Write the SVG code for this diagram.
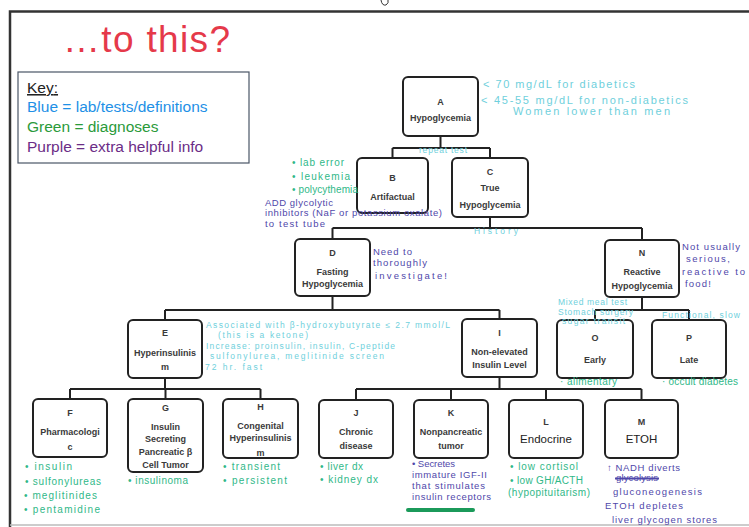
<svg xmlns="http://www.w3.org/2000/svg" width="749" height="527" viewBox="0 0 749 527">
<style>
.node rect{fill:#fff;stroke:#222;stroke-width:2}
.lbl{font-family:"Liberation Sans",Arial,sans-serif;font-weight:bold;font-size:9px;fill:#3a3a3a;text-anchor:middle}
.big{font-size:11.5px;font-weight:normal;fill:#222}
.con{stroke:#222;stroke-width:2;fill:none}
.hw{font-family:"Liberation Sans",Arial,sans-serif}
.lab{fill:#6fd0dc;font-size:8.5px}
.labL{fill:#6fd0dc;font-size:11px}
.grn{fill:#2fb888;font-size:10px}
.pur{fill:#4f47aa;font-size:9.5px}
.key{font-family:"Liberation Sans",Arial,sans-serif;font-size:15.5px}
</style>
<rect width="749" height="527" fill="#fff"/>
<!-- frame -->
<path d="M10 527 V11.5 H749" fill="none" stroke="#333" stroke-width="2.5"/>
<path d="M10 525 H749" stroke="#bbb" stroke-width="1.5"/>
<path d="M381 0 Q382 6 386 5 Q389 3 388 0" fill="none" stroke="#333" stroke-width="1"/>
<!-- title -->
<text x="63" y="52" font-family="Liberation Sans,Arial,sans-serif" font-size="37" fill="#e5394a" textLength="167">…to this?</text>
<!-- key -->
<g id="key">
<rect x="18" y="72" width="231" height="91" fill="#fff" stroke="#4a5566" stroke-width="1.2"/>
<text class="key" x="27" y="93" fill="#222" text-decoration="underline">Key<tspan text-decoration="none">:</tspan></text>
<text class="key" x="27" y="112" fill="#1e90e6">Blue = lab/tests/definitions</text>
<text class="key" x="27" y="132" fill="#2a9a3a">Green = diagnoses</text>
<text class="key" x="27" y="152" fill="#6b2c86">Purple = extra helpful info</text>
</g>
<!-- connectors -->
<g id="connectors" class="con">
<path d="M440.5 136 V148 M392.5 148 H490 M392.5 148 V158 M490 148 V158"/>
<path d="M490 217 V228 M332.5 228 H642 M332.5 228 V239 M642 228 V240"/>
<path d="M332.5 296 V310 M165 310 H499.5 M165 310 V320 M499.5 310 V319"/>
<path d="M642 297 V310 M595 310 H689 M595 310 V320 M689 310 V320"/>
<path d="M165 378 V389 M70 389 H260.5 M70 389 V399 M165.5 389 V399 M260.5 389 V399"/>
<path d="M499.5 377 V389 M356 389 H641.5 M356 389 V400 M451 389 V400 M546 389 V400 M641.5 389 V400"/>
</g>
<!-- nodes -->
<g id="A" class="node"><rect x="403" y="77" width="75" height="59" rx="5"/><text class="lbl" x="440.5" y="105">A</text><text class="lbl" x="440.5" y="121">Hypoglycemia</text></g>
<g id="B" class="node"><rect x="357" y="158" width="71" height="55" rx="5"/><text class="lbl" x="392.5" y="181">B</text><text class="lbl" x="392.5" y="200">Artifactual</text></g>
<g id="C" class="node"><rect x="452" y="158" width="76" height="59" rx="5"/><text class="lbl" x="490" y="175">C</text><text class="lbl" x="490" y="191">True</text><text class="lbl" x="490" y="208">Hypoglycemia</text></g>
<g id="D" class="node"><rect x="295" y="239" width="75" height="57" rx="5"/><text class="lbl" x="332.5" y="256">D</text><text class="lbl" x="332.5" y="275">Fasting</text><text class="lbl" x="332.5" y="287">Hypoglycemia</text></g>
<g id="N" class="node"><rect x="605" y="240" width="74" height="57" rx="5"/><text class="lbl" x="642" y="256">N</text><text class="lbl" x="642" y="275">Reactive</text><text class="lbl" x="642" y="289">Hypoglycemia</text></g>
<g id="E" class="node"><rect x="128" y="320" width="74" height="58" rx="5"/><text class="lbl" x="165" y="336">E</text><text class="lbl" x="165" y="356">Hyperinsulinis</text><text class="lbl" x="165" y="370">m</text></g>
<g id="I" class="node"><rect x="462" y="319" width="75" height="58" rx="5"/><text class="lbl" x="499.5" y="336">I</text><text class="lbl" x="499.5" y="355">Non-elevated</text><text class="lbl" x="499.5" y="368">Insulin Level</text></g>
<g id="O" class="node"><rect x="557" y="320" width="76" height="58" rx="5"/><text class="lbl" x="595" y="341">O</text><text class="lbl" x="595" y="363">Early</text></g>
<g id="P" class="node"><rect x="652" y="320" width="74" height="58" rx="5"/><text class="lbl" x="689" y="341">P</text><text class="lbl" x="689" y="363">Late</text></g>
<g id="F" class="node"><rect x="33" y="399" width="74" height="58" rx="5"/><text class="lbl" x="70" y="416">F</text><text class="lbl" x="70" y="435">Pharmacologi</text><text class="lbl" x="70" y="450">c</text></g>
<g id="G" class="node"><rect x="128" y="399" width="75" height="73" rx="5"/><text class="lbl" x="165.5" y="411">G</text><text class="lbl" x="165.5" y="430">Insulin</text><text class="lbl" x="165.5" y="442">Secreting</text><text class="lbl" x="165.5" y="455">Pancreatic β</text><text class="lbl" x="165.5" y="468">Cell Tumor</text></g>
<g id="H" class="node"><rect x="223" y="399" width="75" height="59" rx="5"/><text class="lbl" x="260.5" y="410">H</text><text class="lbl" x="260.5" y="429">Congenital</text><text class="lbl" x="260.5" y="441">Hyperinsulinis</text><text class="lbl" x="260.5" y="456">m</text></g>
<g id="J" class="node"><rect x="319" y="400" width="74" height="58" rx="5"/><text class="lbl" x="356" y="416">J</text><text class="lbl" x="356" y="435">Chronic</text><text class="lbl" x="356" y="449">disease</text></g>
<g id="K" class="node"><rect x="414" y="400" width="74" height="58" rx="5"/><text class="lbl" x="451" y="416">K</text><text class="lbl" x="451" y="435">Nonpancreatic</text><text class="lbl" x="451" y="449">tumor</text></g>
<g id="L" class="node"><rect x="509" y="400" width="74" height="58" rx="5"/><text class="lbl" x="546" y="425">L</text><text class="lbl big" x="546" y="443">Endocrine</text></g>
<g id="M" class="node"><rect x="605" y="400" width="73" height="58" rx="5"/><text class="lbl" x="641.5" y="425">M</text><text class="lbl big" x="641.5" y="443">ETOH</text></g>
<!-- annotations -->
<g id="notes" class="hw">
<text class="labL" x="483" y="88" textLength="152">&lt; 70 mg/dL for diabetics</text>
<text class="labL" x="481" y="104" textLength="207">&lt; 45-55 mg/dL for non-diabetics</text>
<text class="labL" x="513" y="115" textLength="157">Women lower than men</text>
<text class="lab" x="419" y="153" textLength="48">repeat test</text>
<text class="grn" x="292" y="166" textLength="52">• lab error</text>
<text class="grn" x="292" y="180" textLength="58">• leukemia</text>
<text class="grn" x="292" y="193" textLength="66">• polycythemia</text>
<text class="pur" x="265" y="206" textLength="68">ADD glycolytic</text>
<text class="pur" x="265" y="216" textLength="177">inhibitors (NaF or potassium oxalate)</text>
<text class="pur" x="265" y="227" textLength="60">to test tube</text>
<text class="lab" x="474" y="234" font-size="9.5" textLength="44">History</text>
<text class="pur" x="373" y="255" textLength="39">Need to</text>
<text class="pur" x="373" y="266" textLength="54">thoroughly</text>
<text class="pur" x="375" y="279" font-size="11" textLength="72">investigate!</text>
<text class="pur" x="682" y="250" textLength="58">Not usually</text>
<text class="pur" x="686" y="262" textLength="44">serious,</text>
<text class="pur" x="682" y="275" textLength="63">reactive to</text>
<text class="pur" x="685" y="287" textLength="26">food!</text>
<text class="lab" x="206" y="328" textLength="244">Associated with β-hydroxybutyrate ≤ 2.7 mmol/L</text>
<text class="lab" x="218" y="338" textLength="90">(this is a ketone)</text>
<text class="lab" x="206" y="349" textLength="189">Increase: proinsulin, insulin, C-peptide</text>
<text class="lab" x="210" y="359" textLength="174">sulfonylurea, meglitinide screen</text>
<text class="lab" x="205" y="370" textLength="57">72 hr. fast</text>
<text class="lab" x="558" y="305" textLength="69">Mixed meal test</text>
<text class="lab" x="558" y="315" textLength="75">Stomach surgery</text>
<text class="lab" x="562" y="324" textLength="63">sugar transit</text>
<text class="lab" x="662" y="318" textLength="78">Functional, slow</text>
<text class="grn" x="560" y="385" font-size="9" fill="#3ab56a" textLength="57">· alimentary</text>
<text class="grn" x="662" y="385" font-size="9" fill="#3ab56a" textLength="76">· occult diabetes</text>
<text class="grn" x="25" y="470" textLength="47">• insulin</text>
<text class="grn" x="25" y="485" textLength="76">• sulfonylureas</text>
<text class="grn" x="24" y="499" textLength="73">• meglitinides</text>
<text class="grn" x="24" y="513" textLength="76">• pentamidine</text>
<text class="grn" x="128" y="484" textLength="60">• insulinoma</text>
<text class="grn" x="223" y="470" textLength="57">• transient</text>
<text class="grn" x="223" y="484" textLength="64">• persistent</text>
<text class="grn" x="320" y="470" textLength="43">• liver dx</text>
<text class="grn" x="320" y="483" textLength="58">• kidney dx</text>
<text class="pur" x="412" y="467" font-size="8.5" textLength="43">• Secretes</text>
<text class="pur" x="412" y="478" font-size="8.5" textLength="75">immature IGF-II</text>
<text class="pur" x="412" y="489" font-size="8.5" textLength="73">that stimulates</text>
<text class="pur" x="412" y="500" font-size="8.5" textLength="79">insulin receptors</text>
<path d="M408 510 H473" stroke="#1b9a5a" stroke-width="4" stroke-linecap="round"/>
<text class="grn" x="510" y="470" fill="#3cb9a8" textLength="68">• low cortisol</text>
<text class="grn" x="510" y="484" fill="#3cb9a8" textLength="73">• low GH/ACTH</text>
<text class="grn" x="508" y="496" fill="#3cb9a8" textLength="82">(hypopituitarism)</text>
<text class="pur" x="607" y="471" textLength="73">↑ NADH diverts</text>
<text class="pur" x="616" y="481" font-size="8" textLength="42">glycolysis</text>
<path d="M615 478.5 H659" stroke="#4f47aa" stroke-width="2"/>
<text class="pur" x="613" y="495" font-size="10" textLength="89">gluconeogenesis</text>
<text class="pur" x="605" y="509" font-size="10" textLength="78">ETOH depletes</text>
<text class="pur" x="612" y="523" textLength="105">liver glycogen stores</text>
</g>
</svg>
